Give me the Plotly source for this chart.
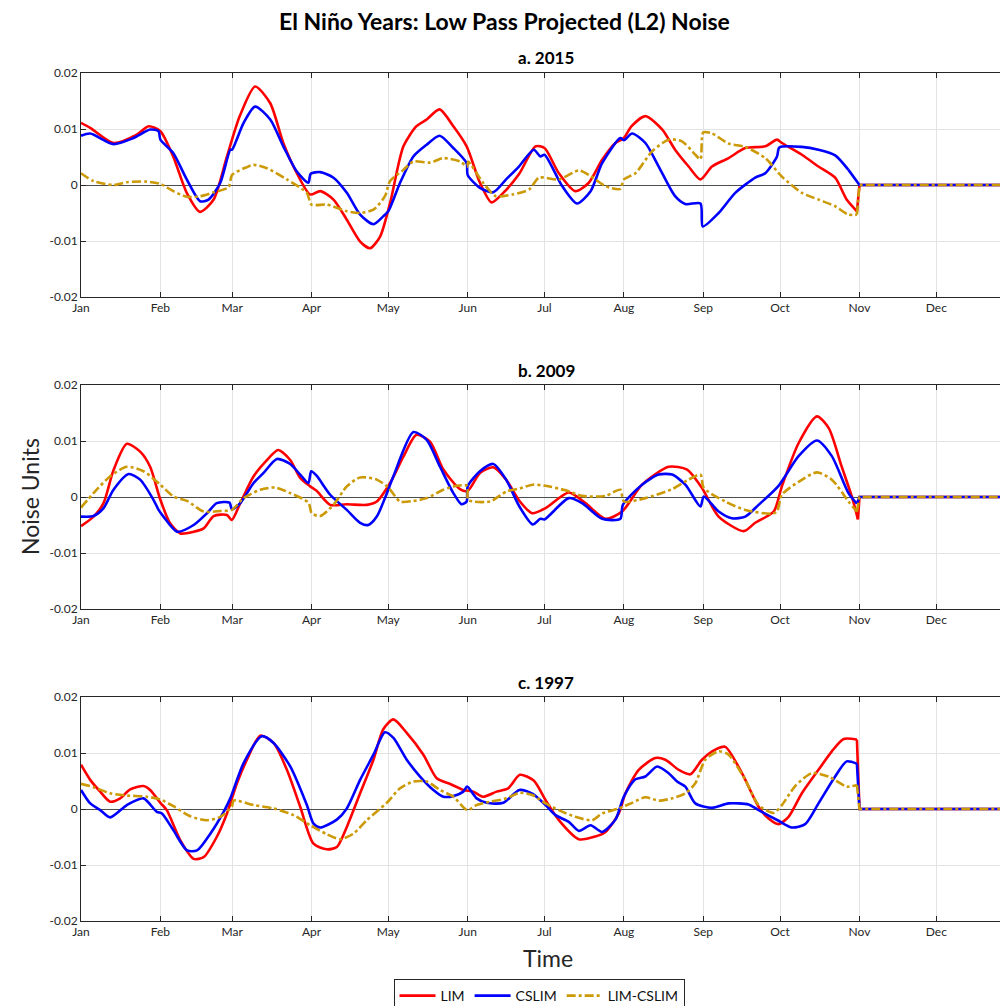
import plotly.graph_objects as go

# ---------------- data (day of year, value) ----------------
month_days = [0, 31, 59, 90, 120, 151, 181, 212, 243, 273, 304, 334]
month_labels = ["Jan", "Feb", "Mar", "Apr", "May", "Jun", "Jul", "Aug", "Sep", "Oct", "Nov", "Dec"]
y_ticks = [-0.02, -0.01, 0, 0.01, 0.02]
y_tick_labels = ["-0.02", "-0.01", "0", "0.01", "0.02"]
panel_titles = ["a. 2015", "b. 2009", "c. 1997"]
series_names = ["LIM", "CSLIM", "LIM-CSLIM"]

a_lim_day = [0,3.6,12.7,21.8,26.4,31,36,41.3,46.5,51.8,57,62,68,73.9,79,84.3,89.5,93.4,98.6,103.8,109,112.9,116.8,120.7,125.9,131,135,140,145.4,150.6,155.8,160.3,164.9,171,177.5,181,186.6,193,198.3,203.5,208.7,212,215,220.4,227,232,237.3,241.9,246.4,252.9,259.4,267.2,271.8,273.7,281.5,288,294.5,299,303,304,365]
a_lim_val = [0.0111,0.0102,0.0075,0.009,0.0105,0.0096,0.0051,-0.0014,-0.0048,-0.0026,0.0051,0.0123,0.0176,0.0146,0.0075,0.0021,-0.0017,-0.0011,-0.0026,-0.0062,-0.0101,-0.0113,-0.0092,-0.0032,0.0069,0.0105,0.0117,0.0135,0.0105,0.0069,0.0004,-0.0031,-0.0014,0.0019,0.0069,0.0066,0.0021,-0.0011,0.0004,0.0045,0.0075,0.0084,0.0105,0.0123,0.0099,0.0063,0.0033,0.001,0.0033,0.0048,0.0066,0.0069,0.0081,0.0075,0.0054,0.0033,0.0013,-0.0026,-0.0047,0,0]

a_cslim_day = [0,3.6,12.7,20.5,27,30.3,31,36,41.3,46.5,49.8,54.4,58.3,59,63.5,68,73.9,79,84.3,88.8,89.7,93.4,98.6,103.8,109,114.2,118,120,124.6,129.8,135,140,145.4,150.6,151,155.8,161,166,171,176.8,179.4,181,187.9,193.7,199,203.5,210.6,212,215.2,220.4,225.6,232,236,241.9,242.8,249,255.5,263.3,267.2,271.8,272.7,281.5,288,294.5,299.7,304,365]
a_cslim_val = [0.0088,0.0092,0.0073,0.0084,0.0099,0.0096,0.0081,0.0057,0.001,-0.0029,-0.0026,0.0004,0.0063,0.0063,0.0111,0.014,0.0117,0.0069,0.0024,0.0004,0.002,0.0023,0.0013,-0.0014,-0.0053,-0.007,-0.0056,-0.0047,0.0004,0.0051,0.0072,0.0088,0.0066,0.0039,0.0018,-0.0005,-0.0013,0.001,0.0033,0.0063,0.0051,0.0054,-0.0002,-0.0033,-0.0011,0.0039,0.0084,0.008,0.0092,0.0075,0.0033,-0.002,-0.0034,-0.0033,-0.0074,-0.005,-0.0014,0.0013,0.0021,0.0051,0.0067,0.0068,0.0063,0.0053,0.0027,0,0]

a_diff_day = [0,4.9,12.7,17.9,25.7,31,36.1,41.3,46.5,51.8,57.6,59,64.8,67.4,72.6,80.4,88.2,90,96,103.8,109,114.2,118.7,120.7,125.9,129.8,136.3,141.5,148,150.8,151.2,157,162,168.5,175,178.8,186.6,194.4,198.3,204.8,210.6,212,216.5,223,229.5,234.7,239.9,241.9,243,246.4,252.9,259.4,267.2,273.7,281.5,288,294.5,299.7,303,304,365]
a_diff_val = [0.0021,0.0007,0,0.0005,0.0006,0.0002,-0.0011,-0.0021,-0.002,-0.0013,-0.0004,0.0018,0.0032,0.0036,0.003,0.001,-0.0014,-0.0035,-0.0035,-0.0047,-0.005,-0.0044,-0.002,0.0007,0.0027,0.0042,0.004,0.0048,0.0042,0.0033,0.0042,0.0004,-0.002,-0.0017,-0.0008,0.0013,0.001,0.0026,0.0018,-0.0002,-0.0007,0.001,0.0021,0.006,0.0081,0.0078,0.0054,0.0046,0.0094,0.0092,0.0074,0.0068,0.0048,0.0015,-0.0014,-0.0026,-0.0038,-0.0053,-0.0053,0,0]

b_lim_day = [0,4.9,8.8,12.7,17.9,23.1,27,31,34.8,38.8,44,47.9,51.8,57,58.9,62.2,67.4,72.6,77,81.7,85.6,89.5,92,97.3,103.8,111.6,115.5,120.7,125.9,131,136.3,141.5,148,151,155.8,161,166,171.4,176.2,181.4,190.5,197,204.8,211.3,219.1,229.5,236.7,242.5,249,258.8,263.3,270.5,273.7,280.2,287.4,292,297,301,303.4,304,365]
b_lim_val = [-0.0052,-0.0035,-0.0011,0.0048,0.0095,0.0081,0.0054,-0.0005,-0.0047,-0.0065,-0.0062,-0.0056,-0.0034,-0.0032,-0.0041,-0.0011,0.0037,0.0066,0.0084,0.0066,0.0034,0.0019,0.0011,-0.0014,-0.0013,-0.0014,-0.0008,0.0025,0.0072,0.0111,0.0099,0.0049,0.0014,0.0011,0.0043,0.0053,0.0031,-0.0008,-0.0029,-0.002,0.0008,-0.0011,-0.0039,-0.0026,0.0022,0.0054,0.0049,0.0016,-0.0035,-0.0061,-0.0046,-0.0026,0.0019,0.0096,0.0144,0.0123,0.0055,0.0001,-0.004,0,0]

b_cslim_day = [0,4.9,8.8,12.7,18.6,23.1,28.3,30.3,32.2,37.5,44,49.2,53,58,58.9,62.2,67.4,71.3,76.5,81.7,85.6,88.8,89.9,92,97.3,103.8,109,112.2,115.5,118.7,122,129.8,135,140.2,145.4,148.6,150.6,151,155.8,161,166,171.2,176.4,179.4,181,190.5,195.7,203.5,210.6,211.6,219.1,225.6,230.8,236,241.9,243.2,249,254.2,259.4,264.6,272.4,280.2,287.4,293.2,299.7,303,304,365]
b_cslim_val = [-0.0035,-0.0034,-0.002,0.0013,0.0041,0.0031,-0.0005,-0.0023,-0.0035,-0.0062,-0.005,-0.0029,-0.0011,-0.001,-0.0022,-0.0011,0.0025,0.0043,0.0068,0.0059,0.004,0.0025,0.0046,0.0038,0.0004,-0.0023,-0.0046,-0.005,-0.0035,-0.0002,0.0037,0.0116,0.0102,0.0054,0.0007,-0.0013,-0.0008,0.0019,0.0046,0.0059,0.0031,-0.0017,-0.0049,-0.0039,-0.004,-0.0002,-0.0011,-0.0039,-0.0039,-0.0014,0.0022,0.004,0.004,0.0022,-0.0017,0.0001,-0.0026,-0.0038,-0.0035,-0.0014,0.002,0.0073,0.0101,0.0073,0.0007,-0.0012,0,0]

b_diff_day = [0,4.9,11.4,17.9,24.4,31,36.1,41.4,47.9,54.4,58.9,63.5,70,75.8,81.7,88.8,90.1,93.4,98.6,103.8,109,115.5,120,124.6,129.8,135,141.5,146.7,150.8,151.2,159.7,166.2,171.2,176.4,181.4,189.2,195.7,204.8,210.6,212,220.4,230.8,237.3,241.9,243.2,251.6,259.4,269.8,271.8,273.7,280.2,287.4,293.2,299.7,303,304,365]
b_diff_val = [-0.0019,0.0007,0.0037,0.0054,0.0046,0.0022,0.0001,-0.0007,-0.0026,-0.0025,-0.0023,-0.0002,0.0013,0.0017,0.0007,-0.001,-0.0029,-0.0034,-0.0014,0.0019,0.0035,0.0031,0.0017,-0.0008,-0.0007,-0.0002,0.0013,0.002,0.002,-0.0005,-0.0008,0.001,0.0015,0.0022,0.002,0.0012,0.0002,0.0002,0.0013,-0.0008,-0.0002,0.0014,0.0031,0.004,0.0016,-0.0008,-0.0023,-0.003,-0.0026,0.0004,0.0027,0.0044,0.0031,-0.0008,-0.0026,0,0]

c_lim_day = [0,3.6,7.5,11.4,15.3,19.2,24.4,27,31,33.5,38.8,44,47.9,53,57,60.9,64.8,70,75.2,80.4,85.6,90.8,96,99.9,103.8,109,114.2,118,122,127.2,133.7,138.9,144,149.3,153.2,157,162.3,166.8,171.4,176.8,181.4,186.6,194.4,200.9,204.8,210,212.6,217.8,224.3,228.2,233.4,238,242.5,247.7,251.6,258.1,264.6,268.5,272.4,276.3,281.5,288,293.2,297.8,303,304,365]
c_lim_val = [0.0079,0.0052,0.0031,0.0013,0.0019,0.0035,0.0041,0.0034,0.0011,-0.0002,-0.0056,-0.0089,-0.0086,-0.005,-0.0008,0.0046,0.0088,0.0131,0.0118,0.007,0.0004,-0.0062,-0.0072,-0.0068,-0.0032,0.0028,0.0088,0.0142,0.016,0.0136,0.0097,0.0055,0.0045,0.0034,0.0031,0.0022,0.0031,0.0037,0.0061,0.0051,0.0016,-0.002,-0.0054,-0.0049,-0.0041,-0.0008,0.0028,0.007,0.0091,0.0088,0.007,0.0062,0.0088,0.0106,0.0111,0.0064,0.0004,-0.0017,-0.0027,-0.0014,0.0028,0.007,0.0103,0.0125,0.0124,0,0]

c_cslim_day = [0,3.6,7.5,11.4,17.9,24.4,29.6,31.6,36.1,41.4,45.3,50.5,55.7,58.3,63.5,70.6,75.2,81.7,88.2,90.8,93.4,99.9,103.8,109,114.2,118.7,122,127.2,132.4,137.6,141.5,145.4,149.3,150.8,154.5,158.4,164.9,171.2,176.4,181.4,185.3,190.5,194.4,199,203.5,208.7,212,216.5,220.4,225,229.5,232.8,236,239.9,246.4,252.9,260.7,264.6,272.4,277.6,282.8,288,294.5,299,303,304,365]
c_cslim_val = [0.0034,0.001,-0.0002,-0.0015,0.0007,0.0019,-0.0005,-0.0008,-0.0038,-0.0074,-0.0074,-0.0044,-0.0005,0.0019,0.0082,0.013,0.0118,0.0076,0.0007,-0.0026,-0.0033,-0.0019,0.0001,0.0052,0.0097,0.0137,0.0127,0.0088,0.0058,0.0034,0.0022,0.0023,0.0031,0.004,0.0019,0.0011,0.0011,0.0034,0.0027,0.0007,-0.0011,-0.0023,-0.0039,-0.0029,-0.0041,-0.0019,0.0022,0.0053,0.0058,0.0076,0.0064,0.0049,0.004,0.001,0.0002,0.001,0.0008,-0.0002,-0.0021,-0.0033,-0.0027,0.001,0.0058,0.0085,0.0081,0,0]

c_diff_day = [0,4.9,11.4,17.9,25.7,31,36.1,42.7,49.2,54.4,58.9,59.6,67.4,75.2,83,89.5,96,101.2,106.4,111.6,119.4,124.6,129.8,135,140.2,145.4,150.8,154.5,159.7,166.2,171.2,176.2,181.4,186.6,193,199.6,203.5,210,215.2,220.4,225.6,230.8,236,239.9,243.8,249,252.9,259.4,264.6,270.5,273.7,278.9,285.4,291.9,299,303,304,365]
c_diff_val = [0.0045,0.0039,0.0028,0.0024,0.0022,0.0017,0.0005,-0.0013,-0.002,-0.0014,0.0004,0.0015,0.0007,0.0001,-0.0011,-0.0029,-0.0045,-0.0054,-0.0044,-0.002,0.0011,0.0037,0.0049,0.0049,0.0034,0.0022,-0.0002,0.0007,0.0013,0.0019,0.0029,0.0025,0.001,-0.0002,-0.0014,-0.002,-0.0008,0.0001,0.0011,0.0021,0.0015,0.0019,0.0028,0.0046,0.0088,0.0103,0.0097,0.0052,0.0007,-0.0007,0.0007,0.0041,0.0064,0.0058,0.004,0.0043,0,0]

panels = [
    [(a_lim_day, a_lim_val), (a_cslim_day, a_cslim_val), (a_diff_day, a_diff_val)],
    [(b_lim_day, b_lim_val), (b_cslim_day, b_cslim_val), (b_diff_day, b_diff_val)],
    [(c_lim_day, c_lim_val), (c_cslim_day, c_cslim_val), (c_diff_day, c_diff_val)],
]
for p in panels:
    for d, v in p:
        assert len(d) == len(v), (len(d), len(v))

# ---------------- styling ----------------
# The page body has an 8px margin; targets below are given in screenshot pixels.
OFF = 8
SCREEN_W, SCREEN_H = 1008, 1006
W, H = SCREEN_W - OFF, SCREEN_H - OFF
PLOT_LEFT, PLOT_RIGHT, PLOT_TOP, PLOT_BOTTOM = 81, 1008, 73, 921   # screenshot px
L = PLOT_LEFT - OFF
R = W - (PLOT_RIGHT - OFF)
T = PLOT_TOP - OFF
B = H - (PLOT_BOTTOM - OFF)
plot_w = W - L - R
plot_h = H - T - B

def px_y(py):
    return (PLOT_BOTTOM - py) / plot_h
def px_x(px):
    return (px - PLOT_LEFT) / plot_w
def dom(top_px, bot_px):
    return [px_y(bot_px), px_y(top_px)]
domains = [dom(73, 297), dom(385, 609), dom(697, 921)]

colors = ["#FF0000", "#0000FF", "#CC9A06"]
dashes = ["solid", "solid", "dashdot"]
FONT = "Lato"
AX = "#262626"
CUT = 304  # day where the series become zero (Nov 1)

fig = go.Figure()
for i, p in enumerate(panels):
    xa = "x" if i == 0 else f"x{i+1}"
    ya = "y" if i == 0 else f"y{i+1}"
    for j, (d, v) in enumerate(p):
        k = next(n for n, dd in enumerate(d) if dd >= CUT)
        fig.add_trace(go.Scatter(
            x=d[:k], y=v[:k], mode="lines", name=series_names[j],
            line=dict(color=colors[j], width=2.6, dash=dashes[j], shape="spline", smoothing=0.7),
            xaxis=xa, yaxis=ya, legendgroup=series_names[j], showlegend=(i == 0),
        ))
        fig.add_trace(go.Scatter(
            x=d[k - 1:], y=v[k - 1:], mode="lines", name=series_names[j],
            line=dict(color=colors[j], width=2.6, dash=dashes[j], shape="linear"),
            xaxis=xa, yaxis=ya, legendgroup=series_names[j], showlegend=False,
        ))

layout = dict(
    width=W, height=H,
    margin=dict(l=L, r=R, t=T, b=B, autoexpand=False),
    paper_bgcolor="white", plot_bgcolor="white",
    font=dict(family=FONT, size=12, color=AX),
    showlegend=True,
    legend=dict(
        orientation="h", x=px_x(539), xanchor="center",
        y=px_y(979), yanchor="top",
        bordercolor=AX, borderwidth=1, bgcolor="white",
        font=dict(family=FONT, size=14, color="#111"),
        traceorder="normal", itemwidth=36, tracegroupgap=0,
    ),
)
annotations = [
    dict(text="<b>El Niño Years: Low Pass Projected (L2) Noise</b>", x=px_x(504), xref="paper",
         y=px_y(21), yref="paper", xanchor="center", yanchor="middle", showarrow=False,
         font=dict(size=23, color="black", family=FONT)),
]
for i in range(3):
    xk = "xaxis" if i == 0 else f"xaxis{i+1}"
    yk = "yaxis" if i == 0 else f"yaxis{i+1}"
    layout[xk] = dict(
        domain=[0, 1], anchor=("y" if i == 0 else f"y{i+1}"), range=[0, 362],
        tickvals=month_days, ticktext=month_labels, ticks="inside", ticklen=5, tickcolor=AX,
        showline=True, linecolor=AX, linewidth=1, mirror="ticks",
        showgrid=True, gridcolor="#E3E3E3", gridwidth=1, zeroline=False,
        tickfont=dict(size=12, color=AX, family=FONT),
    )
    layout[yk] = dict(
        domain=domains[i], anchor=("x" if i == 0 else f"x{i+1}"), range=[-0.02, 0.02],
        tickvals=y_ticks, ticktext=y_tick_labels, ticks="inside", ticklen=5, tickcolor=AX,
        showline=True, linecolor=AX, linewidth=1, mirror="ticks",
        showgrid=True, gridcolor="#E3E3E3", gridwidth=1,
        zeroline=True, zerolinecolor="#4D4D4D", zerolinewidth=1,
        tickfont=dict(size=12, color=AX, family=FONT),
    )
    top_px = [73, 385, 697][i]
    annotations.append(dict(
        text=f"<b>{panel_titles[i]}</b>", x=px_x(546), xref="paper", y=px_y(top_px - 15), yref="paper",
        xanchor="center", yanchor="middle", showarrow=False,
        font=dict(size=17, color="black", family=FONT)))

annotations.append(dict(text="Noise Units", x=px_x(30), xref="paper",
                        y=px_y(497), yref="paper", xanchor="center", yanchor="middle",
                        textangle=-90, showarrow=False,
                        font=dict(size=23, color=AX, family=FONT)))
annotations.append(dict(text="Time", x=px_x(548), xref="paper",
                        y=px_y(958), yref="paper", xanchor="center", yanchor="middle",
                        showarrow=False, font=dict(size=23, color=AX, family=FONT)))
layout["annotations"] = annotations
fig.update_layout(**layout)
fig.write_html("out.html")
